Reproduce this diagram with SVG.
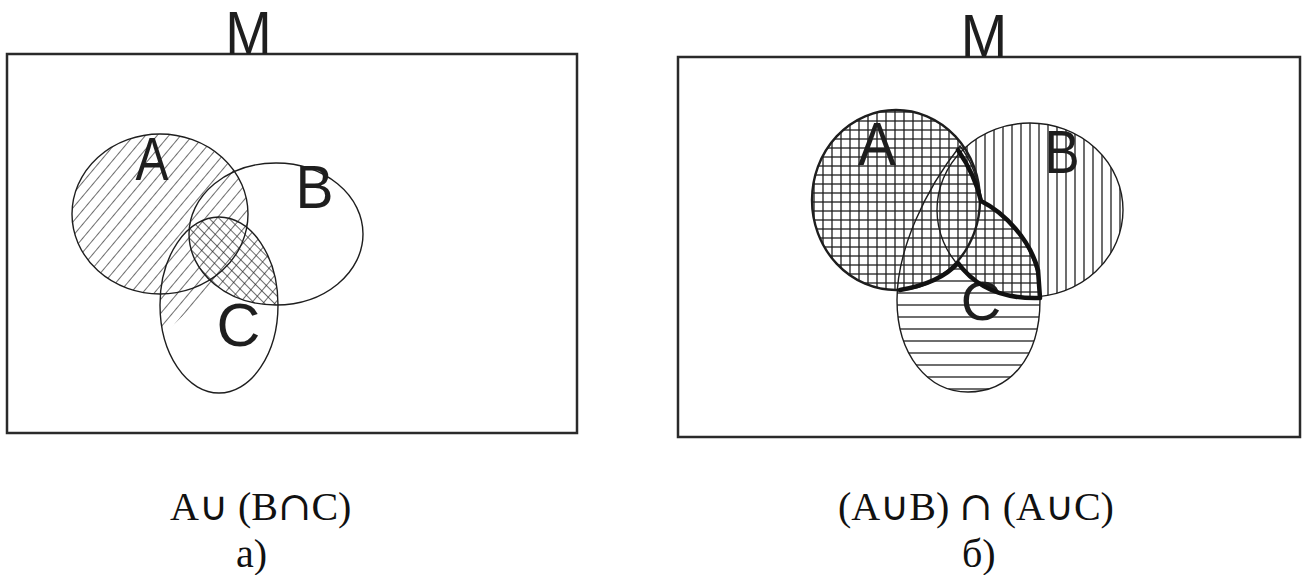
<svg xmlns="http://www.w3.org/2000/svg" width="1306" height="575" viewBox="0 0 1306 575">
<style>
.frame{fill:none;stroke:#2a2a2a;stroke-width:2.5}
.set{fill:none;stroke:#1e1e1e;stroke-width:1.4}
.setb{fill:none;stroke:#1e1e1e;stroke-width:2.4}
.bold{fill:none;stroke:#111;stroke-width:4.5;stroke-linejoin:round;stroke-linecap:round}
.lbl{font-family:"Liberation Sans",Arial,sans-serif;font-size:62px;fill:#1e1e1e;text-anchor:middle}
.cap{font-family:"Liberation Serif","Times New Roman",serif;font-size:40px;fill:#111}
.int{font-family:"DejaVu Serif","Liberation Serif",serif;font-size:40px}
.h{stroke:#1e1e1e;stroke-width:1.3}
</style>
<defs>
<pattern id="diagL" width="9" height="9" patternUnits="userSpaceOnUse" patternTransform="rotate(40)"><line class="h" x1="0" y1="0" x2="0" y2="9"/></pattern>
<pattern id="diagR" width="7" height="7" patternUnits="userSpaceOnUse" patternTransform="rotate(-45)"><line class="h" x1="0" y1="0" x2="0" y2="7"/></pattern>
<pattern id="vert" width="9" height="10" patternUnits="userSpaceOnUse"><line class="h" x1="4" y1="0" x2="4" y2="10"/></pattern>
<pattern id="horz9" width="10" height="9" patternUnits="userSpaceOnUse"><line class="h" x1="0" y1="4" x2="10" y2="4"/></pattern>
<pattern id="horz12" width="10" height="12" patternUnits="userSpaceOnUse"><line class="h" x1="0" y1="5" x2="10" y2="5"/></pattern>
<clipPath id="lB"><ellipse cx="276" cy="234" rx="87" ry="71"/></clipPath>
<clipPath id="lC"><ellipse cx="219" cy="305" rx="59" ry="88"/></clipPath>
<mask id="lSlash">
<ellipse cx="160" cy="214" rx="88" ry="80" fill="#fff"/>
<g clip-path="url(#lB)"><ellipse cx="219" cy="305" rx="59" ry="88" fill="#fff"/></g>
<g clip-path="url(#lC)"><polygon points="140,345 165,333 222,278 140,278" fill="#fff"/></g>
</mask>
<mask id="lLens">
<g clip-path="url(#lB)"><ellipse cx="219" cy="305" rx="59" ry="88" fill="#fff"/></g>
</mask>
<clipPath id="rAB"><ellipse cx="896" cy="200" rx="84" ry="90"/><ellipse cx="1030" cy="210" rx="93" ry="87"/></clipPath>
<clipPath id="rB"><ellipse cx="1030" cy="210" rx="93" ry="87"/></clipPath>
<mask id="rGridH">
<ellipse cx="896" cy="200" rx="84" ry="90" fill="#fff"/>
<g clip-path="url(#rB)"><path d="M960,146 C975,165 980,190 982,201 C1010,215 1040,250 1040,300 C1040,360 1008,392 968,392 C928,392 897,355 897,300 C897,250 925,190 960,146 Z" fill="#fff"/></g>
</mask>
<mask id="rConly">
<path d="M960,146 C975,165 980,190 982,201 C1010,215 1040,250 1040,300 C1040,360 1008,392 968,392 C928,392 897,355 897,300 C897,250 925,190 960,146 Z" fill="#fff"/>
<ellipse cx="896" cy="200" rx="84" ry="90" fill="#000"/>
<ellipse cx="1030" cy="210" rx="93" ry="87" fill="#000"/>
</mask>
</defs>

<g id="panel-a">
<rect class="frame" x="7" y="54" width="570" height="379"/>
<text class="lbl" transform="translate(248.5,54) scale(0.9,1)">M</text>
<g id="hatch-a">
<rect x="60" y="120" width="320" height="290" fill="url(#diagL)" mask="url(#lSlash)"/>
<rect x="60" y="120" width="320" height="290" fill="url(#diagR)" mask="url(#lLens)"/>
</g>
<g id="a-setA"><ellipse class="set" cx="160" cy="214" rx="88" ry="80"/><text class="lbl" transform="translate(152,180) scale(0.8,1)">A</text></g>
<g id="a-setB"><ellipse class="set" cx="276" cy="234" rx="87" ry="71"/><text class="lbl" transform="translate(314.5,208) scale(0.92,1)">B</text></g>
<g id="a-setC"><ellipse class="set" cx="219" cy="305" rx="59" ry="88"/><text class="lbl" transform="translate(238.5,346) scale(0.98,1)">C</text></g>
<text class="cap" x="170" y="520">A∪ (B<tspan class="int">∩</tspan>C)</text>
<text class="cap" x="236" y="567">a)</text>
</g>

<g id="panel-b">
<rect class="frame" x="678" y="57" width="622" height="380"/>
<text class="lbl" transform="translate(984,57) scale(0.9,1)">M</text>
<g id="hatch-b">
<rect x="800" y="100" width="340" height="300" fill="url(#vert)" clip-path="url(#rAB)"/>
<rect x="800" y="100" width="340" height="300" fill="url(#horz9)" mask="url(#rGridH)"/>
<rect x="800" y="100" width="340" height="300" fill="url(#horz12)" mask="url(#rConly)"/>
</g>
<g id="b-setA"><ellipse class="setb" cx="896" cy="200" rx="84" ry="90"/><text class="lbl" transform="translate(877,165) scale(0.92,1)">A</text></g>
<g id="b-setB"><ellipse class="set" cx="1030" cy="210" rx="93" ry="87"/><text class="lbl" transform="translate(1062,173) scale(0.85,1)">B</text></g>
<g id="b-setC"><path class="set" d="M960,146 C975,165 980,190 982,201 C1010,215 1040,250 1040,300 C1040,360 1008,392 968,392 C928,392 897,355 897,300 C897,250 925,190 960,146 Z"/><text class="lbl" style="font-size:56px" transform="translate(981,320)">C</text></g>
<g id="connectors">
<path class="bold" d="M958,150 Q975,175 981,201 C1005,213 1030,240 1038,270 L1040,298 Q985,300 958,263 Q940,283 900,290"/>
</g>
<text class="cap" x="838" y="520">(A∪B) <tspan class="int">∩</tspan> (A∪C)</text>
<text class="cap" x="962" y="567">б)</text>
</g>
</svg>
